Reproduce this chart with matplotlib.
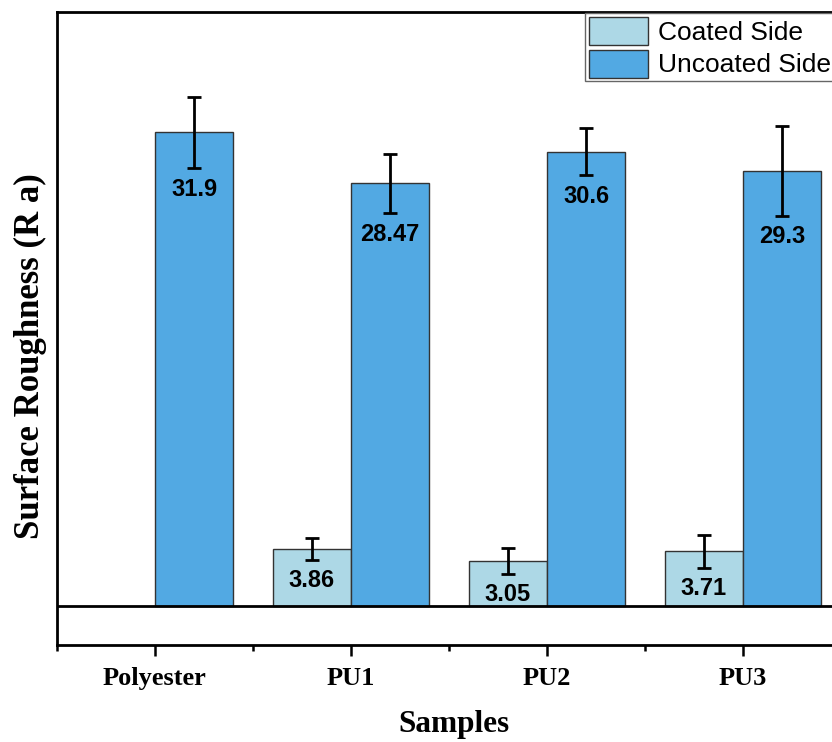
import numpy as np
import matplotlib.pyplot as plt

# Surface roughness of coated / uncoated sides
samples = ['Polyester', 'PU1', 'PU2', 'PU3']
coated = [np.nan, 3.86, 3.05, 3.71]
coated_err = [np.nan, 0.77, 0.87, 1.1]
uncoated = [31.9, 28.47, 30.6, 29.3]
uncoated_err = [2.4, 2.0, 1.6, 3.0]
coated_labels = ['', '3.86', '3.05', '3.71']
uncoated_labels = ['31.9', '28.47', '30.6', '29.3']

fig = plt.figure(figsize=(8.32, 7.42), dpi=100)
# axes runs a little past the right edge, as in the original
ax = fig.add_axes([0.0685, 0.1307, 0.9423, 0.8531])

x = np.arange(1, len(samples) + 1)
w = 0.4
ax.bar(x - w / 2, coated, w, color='#ADD8E6', edgecolor='#333333', linewidth=1, label='Coated Side')
ax.bar(x + w / 2, uncoated, w, color='#52A9E3', edgecolor='#333333', linewidth=1, label='Uncoated Side')
ax.errorbar(x - w / 2, coated, yerr=coated_err, fmt='none', ecolor='black', elinewidth=2, capsize=5, capthick=2)
ax.errorbar(x + w / 2, uncoated, yerr=uncoated_err, fmt='none', ecolor='black', elinewidth=2, capsize=5, capthick=2)

# value labels just under the lower error cap
for xi, v, e, lab in zip(x - w / 2, coated, coated_err, coated_labels):
    if lab:
        ax.text(xi, v - e - 0.6, lab, ha='center', va='top', fontsize=17,
                fontweight='bold', family='Liberation Sans')
for xi, v, e, lab in zip(x + w / 2, uncoated, uncoated_err, uncoated_labels):
    ax.text(xi, v - e - 0.65, lab, ha='center', va='top', fontsize=17,
            fontweight='bold', family='Liberation Sans')

ax.axhline(0, color='black', linewidth=2)
ax.set_xlim(0.5, 4.5)
ax.set_ylim(-2.6, 40)

ax.set_xticks(x)
ax.set_xticklabels(samples, fontsize=19, fontweight='bold', family='Liberation Serif')
ax.set_xticks([0.5, 1.5, 2.5, 3.5, 4.5], minor=True)
ax.tick_params(axis='x', which='major', length=8, width=1.8, pad=8)
ax.tick_params(axis='x', which='minor', length=4, width=1.8)
ax.set_yticks([])
for s in ax.spines.values():
    s.set_linewidth(2)

fig.text(0.545, 0.024, 'Samples', ha='center', va='center', fontsize=22.5,
         fontweight='bold', family='Liberation Serif')
fig.text(0.037, 0.52, 'Surface Roughness (R a)', ha='center', va='center', rotation=90,
         fontsize=25, fontweight='bold', family='Liberation Serif')

leg = ax.legend(loc='upper left', bbox_to_anchor=(585 / 832, 1 - 13 / 742),
                bbox_transform=fig.transFigure, prop={'family': 'Liberation Sans', 'size': 19},
                fancybox=False, framealpha=1, edgecolor='#666666', borderpad=0.15,
                labelspacing=0.18, handlelength=2.25, handleheight=1.25, handletextpad=0.35,
                borderaxespad=0)

fig.savefig('out.png', dpi=100)
